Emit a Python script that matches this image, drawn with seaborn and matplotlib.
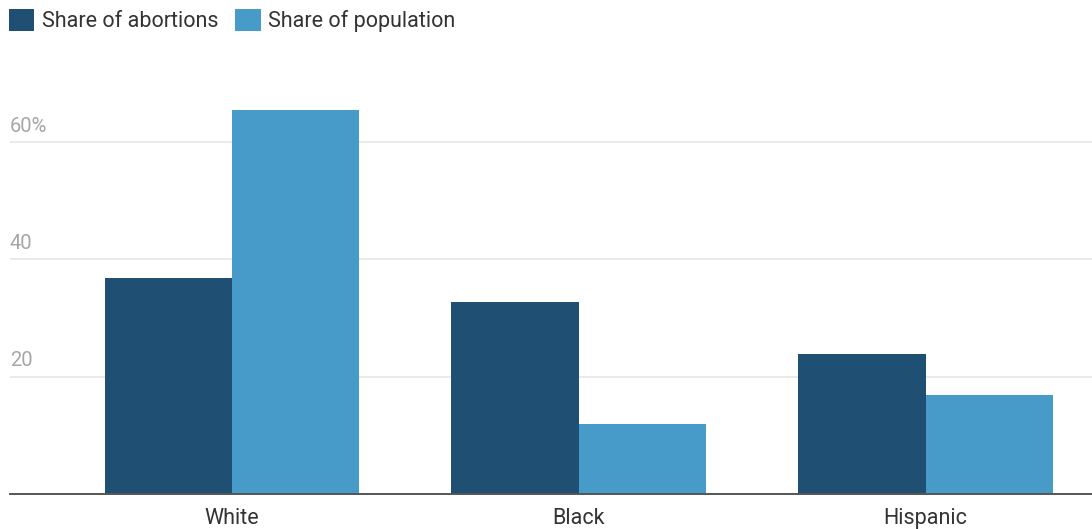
import numpy as np
import pandas as pd
import seaborn as sns
import matplotlib.pyplot as plt
from matplotlib.patches import Patch
from matplotlib.transforms import offset_copy

# data
groups = ['White', 'Black', 'Hispanic']
share_abortions = [36.8, 32.7, 23.9]
share_population = [65.5, 11.9, 16.8]
series = ['Share of abortions', 'Share of population']
colors = ['#1F4F73', '#479BC9']
yticks = [20, 40, 60]
ytick_labels = ['20', '40', '60%']

df = pd.DataFrame({
    'group': groups * 2,
    'value': share_abortions + share_population,
    'series': [series[0]] * 3 + [series[1]] * 3,
})

sns.set_style('white')
plt.rcParams['font.family'] = ['Roboto', 'DejaVu Sans']

fig = plt.figure(figsize=(10.92, 5.29), dpi=100)
ax = fig.add_axes([10 / 1092, 1 - 494 / 529, 1 - 10 / 1092, (494 - 60) / 529])

sns.barplot(data=df, x='group', y='value', hue='series', palette=colors,
            width=0.735, gap=0, saturation=1, legend=False, ax=ax,
            edgecolor='none', linewidth=0, zorder=3)

ax.set_xlim(-0.64, 2.48)
ax.set_ylim(0, 74)
ax.set_xlabel('')
ax.set_ylabel('')

# gridlines + labels sitting above them
for v, lab in zip(yticks, ytick_labels):
    ax.axhline(v, color='#e6e6e6', lw=1.2, zorder=1)
    ax.text(0, v, lab, transform=offset_copy(ax.get_yaxis_transform(), fig=fig, y=4.5, units='points'),
            ha='left', va='bottom', fontsize=14.5, color='#a6a6a6')
ax.set_yticks([])

for s in ['top', 'right', 'left']:
    ax.spines[s].set_visible(False)
ax.spines['bottom'].set_color('#555555')
ax.spines['bottom'].set_linewidth(1.4)
ax.spines['bottom'].set_zorder(4)

ax.tick_params(axis='x', length=0, labelsize=15.5, labelcolor='#333333', pad=10)

handles = [Patch(facecolor=c, edgecolor='none') for c in colors]
fig.legend(handles, series, loc='upper left', bbox_to_anchor=(0.0, 1.0), ncol=2,
           frameon=False, fontsize=15.5, handlelength=1.2, handleheight=1.2,
           handletextpad=0.33, columnspacing=0.8, labelcolor='#333333',
           borderaxespad=0.1, borderpad=0.3)

fig.savefig('out.png', dpi=100)
